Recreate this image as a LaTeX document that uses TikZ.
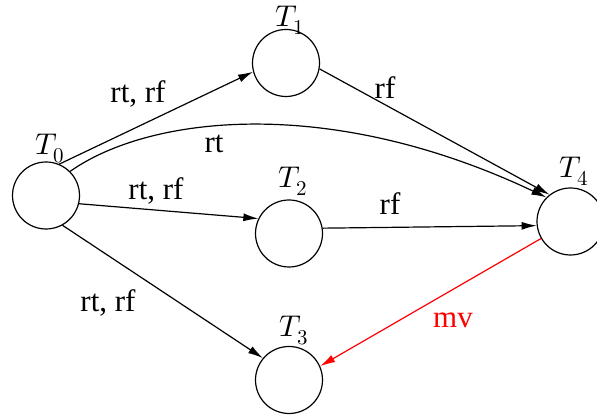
\documentclass[tikz,border=0pt]{standalone}
\usepackage{fontspec}
\usepackage{unicode-math}
\setmainfont{Liberation Serif}
\setmathfont{Latin Modern Math}
\usetikzlibrary{arrows.meta}
\begin{document}
\begin{tikzpicture}[x=1pt,y=1pt,
  state/.style={circle,draw,line width=1.2pt,minimum size=67pt,inner sep=0pt},
  edge/.style={line width=1.2pt,-{Latex[length=15pt,width=8pt]}},
  lbl/.style={anchor=base,font=\fontsize{31}{36}\selectfont,inner sep=0pt},
  tl/.style={anchor=base,font=\fontsize{30}{34}\selectfont,inner sep=0pt}]
\useasboundingbox (0,0) rectangle (597,417);
\node[state] (T0) at (46,221.5) {};
\node[state] (T1) at (286,354) {};
\node[state] (T2) at (289,183.5) {};
\node[state] (T3) at (289,37) {};
\node[state] (T4) at (570.5,195.5) {};
\node[tl] (L0) at (50,262) {$T_0$};
\node[tl] (L1) at (290,390) {$T_1$};
\node[tl] (L2) at (293,229) {$T_2$};
\node[tl] (L3) at (294,80) {$T_3$};
\node[tl] (L4) at (574,239) {$T_4$};
\draw[edge] (T0.67) -- (T1.195);
\draw[edge] (T0.45) .. controls (150,302) and (330,322) .. (T4.135);
\draw[edge] (T0.346) -- (T2.154);
\draw[edge] (T0.299) -- (T3.140);
\draw[edge] (T1.350) -- (T4.128);
\draw[edge] (T2.9) -- (T4.187);
\draw[edge,red] (T4.210) -- (T3.24);
\node[lbl] (a) at (138,314) {rt, rf};
\node[lbl] (b) at (214,264) {rt};
\node[lbl] (c) at (156,217) {rt, rf};
\node[lbl] (d) at (108,105) {rt, rf};
\node[lbl] (e) at (385,318) {rf};
\node[lbl] (f) at (390,202) {rf};
\node[lbl,text=red] (g) at (453,89) {mv};
\end{tikzpicture}
\end{document}
